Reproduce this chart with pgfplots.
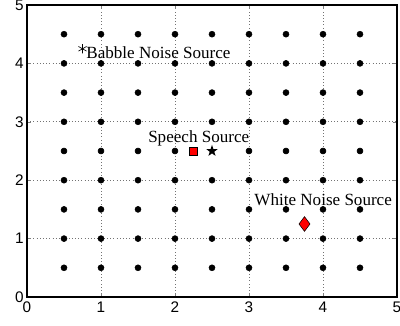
\documentclass[border=0pt]{standalone}
\usepackage{pgfplots}
\pgfplotsset{compat=1.18}
\usepackage{fontspec}
\setmainfont{Liberation Serif}
\newfontfamily\ticksf{Liberation Sans}
\usetikzlibrary{plotmarks}
\pgfdeclareplotmark{fstar}{%
  \pgfpathmoveto{\pgfpointpolar{90}{\pgfplotmarksize}}%
  \pgfpathlineto{\pgfpointpolar{126}{0.4*\pgfplotmarksize}}%
  \pgfpathlineto{\pgfpointpolar{162}{\pgfplotmarksize}}%
  \pgfpathlineto{\pgfpointpolar{198}{0.4*\pgfplotmarksize}}%
  \pgfpathlineto{\pgfpointpolar{234}{\pgfplotmarksize}}%
  \pgfpathlineto{\pgfpointpolar{270}{0.4*\pgfplotmarksize}}%
  \pgfpathlineto{\pgfpointpolar{306}{\pgfplotmarksize}}%
  \pgfpathlineto{\pgfpointpolar{342}{0.4*\pgfplotmarksize}}%
  \pgfpathlineto{\pgfpointpolar{18}{\pgfplotmarksize}}%
  \pgfpathlineto{\pgfpointpolar{54}{0.4*\pgfplotmarksize}}%
  \pgfpathclose\pgfusepathqfill}
\pgfplotstableread{
x y
0.5 0.5
0.5 1.0
0.5 1.5
0.5 2.0
0.5 2.5
0.5 3.0
0.5 3.5
0.5 4.0
0.5 4.5
1.0 0.5
1.0 1.0
1.0 1.5
1.0 2.0
1.0 2.5
1.0 3.0
1.0 3.5
1.0 4.0
1.0 4.5
1.5 0.5
1.5 1.0
1.5 1.5
1.5 2.0
1.5 2.5
1.5 3.0
1.5 3.5
1.5 4.0
1.5 4.5
2.0 0.5
2.0 1.0
2.0 1.5
2.0 2.0
2.0 2.5
2.0 3.0
2.0 3.5
2.0 4.0
2.0 4.5
2.5 0.5
2.5 1.0
2.5 1.5
2.5 2.0
2.5 3.0
2.5 3.5
2.5 4.0
2.5 4.5
3.0 0.5
3.0 1.0
3.0 1.5
3.0 2.0
3.0 2.5
3.0 3.0
3.0 3.5
3.0 4.0
3.0 4.5
3.5 0.5
3.5 1.0
3.5 1.5
3.5 2.0
3.5 2.5
3.5 3.0
3.5 3.5
3.5 4.0
3.5 4.5
4.0 0.5
4.0 1.0
4.0 1.5
4.0 2.0
4.0 2.5
4.0 3.0
4.0 3.5
4.0 4.0
4.0 4.5
4.5 0.5
4.5 1.0
4.5 1.5
4.5 2.0
4.5 2.5
4.5 3.0
4.5 3.5
4.5 4.0
4.5 4.5
}\gridpts
\begin{document}
\begin{tikzpicture}
\begin{axis}[
  scale only axis,
  width=277.5pt, height=219pt,
  xmin=0, xmax=5, ymin=0, ymax=5,
  xtick={0,1,2,3,4,5}, ytick={0,1,2,3,4,5},
  tick align=inside,
  major tick length=3pt,
  axis line style={line width=0.9pt},
  grid=major,
  major grid style={dotted, black!55, line width=0.5pt},
  ticklabel style={font=\ticksf\fontsize{11.5}{13}\selectfont},
  /pgf/number format/assume math mode=true,
  xticklabel style={yshift=0pt},
  yticklabel style={xshift=1pt},
  clip=false,
]
\addplot[only marks, mark=*, mark size=2.25pt, black] table {\gridpts};
\addplot[only marks, mark=asterisk, mark size=3.5pt, black, line width=0.5pt] coordinates {(0.75,4.25)};
\addplot[only marks, mark=square*, mark size=3pt, mark options={fill=red, draw=black, line width=0.4pt}] coordinates {(2.25,2.5)};
\addplot[only marks, mark=fstar, mark size=4.5pt, black] coordinates {(2.5,2.5)};
\addplot[only marks, mark=diamond*, mark size=5.5pt, mark options={fill=red, draw=black, line width=0.4pt}] coordinates {(3.75,1.25)};
\node[anchor=west, inner sep=0pt, font=\fontsize{12.8}{15}\selectfont] at (axis cs:0.8,4.18) {Babble Noise Source};
\node[anchor=west, inner sep=0pt, font=\fontsize{12.8}{15}\selectfont] at (axis cs:1.635,2.72) {Speech Source};
\node[anchor=west, inner sep=0pt, font=\fontsize{12.8}{15}\selectfont] at (axis cs:3.07,1.66) {White Noise Source};
\end{axis}
\pgfresetboundingbox
\path ([shift={(-20.25pt,-21.75pt)}]current axis.south west) rectangle ([shift={(2.25pt,3.75pt)}]current axis.north east);
\end{tikzpicture}
\end{document}
